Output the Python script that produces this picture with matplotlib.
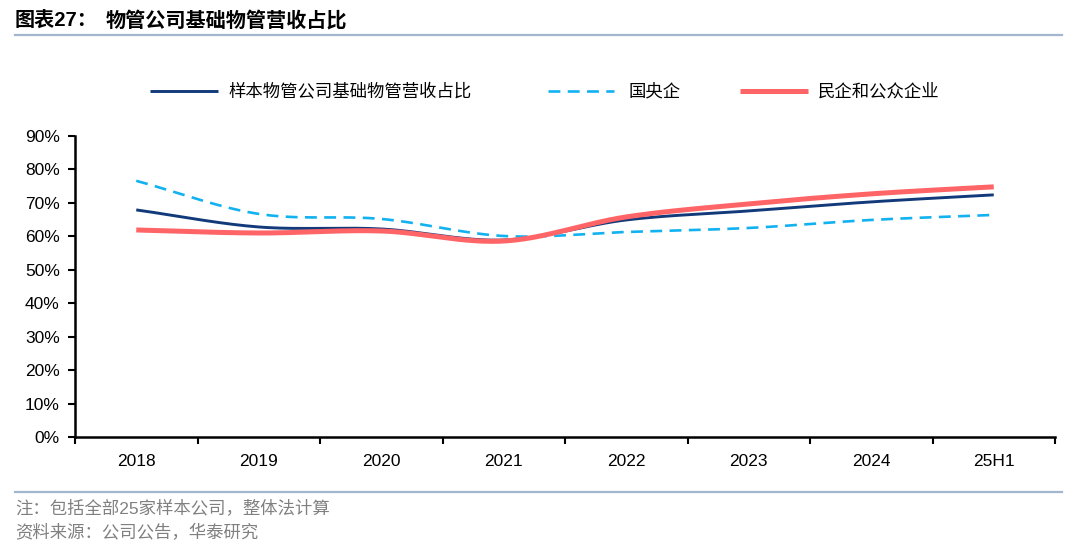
import matplotlib
matplotlib.use('Agg')
import matplotlib.pyplot as plt
from matplotlib.lines import Line2D
import numpy as np

plt.rcParams['font.family'] = ['Liberation Sans', 'Noto Sans CJK SC', 'DejaVu Sans']

categories = ['2018', '2019', '2020', '2021', '2022', '2023', '2024', '25H1']
sample_ratio = [67.9, 62.8, 62.2, 58.9, 64.9, 67.6, 70.3, 72.4]
soe_ratio = [76.6, 66.7, 65.2, 60.1, 61.3, 62.5, 64.9, 66.4]
private_ratio = [61.9, 61.0, 61.6, 58.6, 65.8, 69.7, 72.7, 74.8]
series_names = ['样本物管公司基础物管营收占比', '国央企', '民企和公众企业']
y_ticks = [0, 10, 20, 30, 40, 50, 60, 70, 80, 90]

cjk = ['Noto Sans CJK SC', 'DejaVu Sans']
W, H = 1080, 549


def smooth(xs, ys, steps=30):
    # Catmull-Rom curve through the points, like Excel smoothed lines
    xs = np.asarray(xs, float)
    ys = np.asarray(ys, float)
    px = np.concatenate([[2 * xs[0] - xs[1]], xs, [2 * xs[-1] - xs[-2]]])
    py = np.concatenate([[2 * ys[0] - ys[1]], ys, [2 * ys[-1] - ys[-2]]])
    outx, outy = [], []
    t = np.linspace(0, 1, steps)
    for i in range(1, len(px) - 2):
        for p, out in ((px, outx), (py, outy)):
            p0, p1, p2, p3 = p[i - 1], p[i], p[i + 1], p[i + 2]
            b1 = p1 + (p2 - p0) / 6
            b2 = p2 - (p3 - p1) / 6
            seg = ((1 - t) ** 3 * p1 + 3 * (1 - t) ** 2 * t * b1
                   + 3 * (1 - t) * t ** 2 * b2 + t ** 3 * p2)
            out.extend(seg)
    return outx, outy


fig = plt.figure(figsize=(10.8, 5.49), dpi=100)
ax = fig.add_axes([75 / W, 112 / H, 980 / W, 301 / H])

x = np.arange(len(categories))
styles = [
    ('#123A7A', 2.1, '-'),
    ('#12B2F0', 1.9, (0, (4.5, 2.8))),
    ('#FF6467', 3.6, '-'),
]
for vals, (color, lw, ls) in zip([sample_ratio, soe_ratio, private_ratio], styles):
    sx, sy = smooth(x, vals)
    ax.plot(sx, sy, color=color, lw=lw, ls=ls, solid_capstyle='butt')

ax.set_xlim(-0.5, len(categories) - 0.5)
ax.set_ylim(0, 90)
ax.set_yticks(y_ticks)
ax.set_yticklabels([f'{v}%' for v in y_ticks], fontsize=12.5)
ax.set_xticks(x)
ax.set_xticklabels(categories, fontsize=12.5)
ax.set_xticks(np.arange(-0.5, len(categories)), minor=True)
ax.tick_params(axis='x', which='major', length=0, pad=12)
ax.tick_params(axis='x', which='minor', length=5, width=1.5, direction='out')
ax.tick_params(axis='y', length=5, width=1.5, direction='out', pad=6)
for s in ['top', 'right']:
    ax.spines[s].set_visible(False)
for s in ['left', 'bottom']:
    ax.spines[s].set_linewidth(1.8)

# legend drawn by hand so the entries sit where they do in the original
leg_y = 1 - 91 / H
leg_pos = [(150, 218, 228), (548, 614, 628), (740, 808, 818)]
for (x0, x1, tx), name, (color, lw, ls) in zip(leg_pos, series_names, styles):
    fig.add_artist(Line2D([x0 / W, x1 / W], [leg_y, leg_y], color=color, lw=lw, ls=ls,
                          solid_capstyle='butt'))
    fig.text(tx / W, leg_y, name, fontsize=12.5, family=cjk, va='center', ha='left')

# title and footer
fig.text(15 / W, 1 - 20 / H, '图表27：', fontsize=14.5, fontweight='bold',
         va='center', ha='left')
fig.text(106 / W, 1 - 20 / H, '物管公司基础物管营收占比', fontsize=14.5, fontweight='bold',
         family=cjk, va='center', ha='left')
fig.add_artist(Line2D([15 / W, 1062 / W], [1 - 35 / H] * 2, color='#A3B6CF', lw=1.6))
fig.add_artist(Line2D([15 / W, 1062 / W], [1 - 492 / H] * 2, color='#A3B6CF', lw=1.6))
fig.text(15 / W, 1 - 508 / H, '注：包括全部25家样本公司，整体法计算', fontsize=12.5,
         color='#808080', va='center', ha='left')
fig.text(15 / W, 1 - 533 / H, '资料来源：公司公告，华泰研究', fontsize=12.5,
         color='#808080', family=cjk, va='center', ha='left')

fig.savefig('out.png', dpi=100)
